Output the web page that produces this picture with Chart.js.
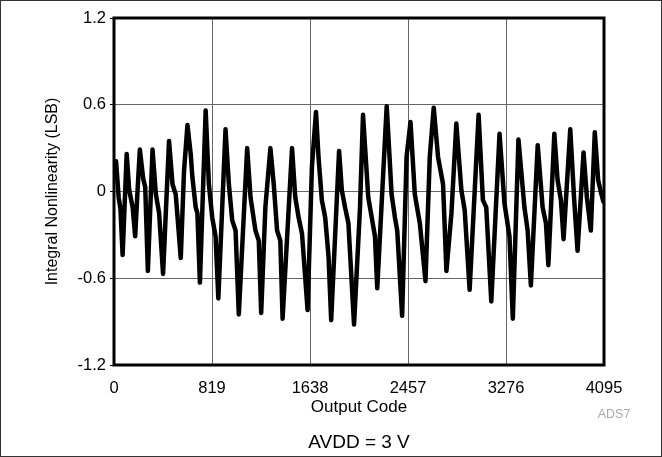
<!DOCTYPE html>
<html>
<head>
<meta charset="utf-8">
<script src="https://cdn.jsdelivr.net/npm/chart.js@4"></script>
<style>
  html, body { margin: 0; padding: 0; background: #fff; }
  #wrap { position: relative; width: 662px; height: 457px; }
  #inlChart { display: block; outline: 1px solid #333; outline-offset: -1px; }
</style>
</head>
<body>
<div id="wrap"><canvas id="inlChart" width="662" height="457"></canvas></div>
<script>
// output codes (x) and INL in LSB (y) at the turning points
const codes = [17,39,54,72,106,127,156,177,197,216,244,261,283,322,350,377,410,460,489,516,
  558,585,614,641,655,683,697,718,766,793,821,849,872,932,960,988,1016,1043,1113,1141,
  1182,1210,1230,1265,1307,1335,1363,1390,1409,1488,1515,1543,1571,1618,1654,1688,1709,1737,1765,1793,
  1815,1881,1904,1931,1959,2006,2056,2081,2125,2154,2181,2200,2279,2320,2348,2367,2408,2445,2478,2514,
  2556,2603,2639,2672,2708,2750,2778,2820,2861,2903,2931,2972,3047,3083,3111,3153,3222,3263,3305,3333,
  3380,3430,3457,3484,3541,3582,3610,3630,3680,3707,3735,3757,3813,3846,3874,3924,3952,3985,4018,4046,
  4074,4090];
const inl = [0.21,-0.04,-0.12,-0.44,0.26,0.01,-0.11,-0.31,0.01,0.29,0.09,0.03,-0.55,0.29,-0.02,-0.15,-0.57,0.35,0.05,-0.02,
  -0.46,0.14,0.46,0.26,0.10,-0.11,-0.15,-0.63,0.56,0.05,-0.18,-0.31,-0.74,0.43,0.05,-0.20,-0.27,-0.85,0.30,-0.04,
  -0.27,-0.34,-0.84,-0.11,0.30,0.05,-0.27,-0.34,-0.88,0.30,-0.04,-0.18,-0.29,-0.82,0.17,0.55,0.24,-0.06,-0.18,-0.45,
  -0.89,0.28,0.01,-0.11,-0.22,-0.92,-0.11,0.53,-0.04,-0.18,-0.31,-0.67,0.59,-0.02,-0.18,-0.27,-0.86,0.24,0.48,-0.02,
  -0.22,-0.62,0.24,0.58,0.24,0.05,-0.55,-0.15,0.47,0.01,-0.13,-0.68,0.53,-0.06,-0.11,-0.76,0.40,-0.08,-0.31,-0.88,
  0.36,-0.11,-0.27,-0.65,0.32,-0.11,-0.22,-0.51,0.40,0.08,-0.06,-0.33,0.43,-0.06,-0.41,0.27,-0.04,-0.27,0.41,0.08,
  -0.02,-0.07];
const xTicks = [0, 819, 1638, 2457, 3276, 4095];
const yTicks = [-1.2, -0.6, 0, 0.6, 1.2];

const FONT = '"Liberation Sans", Arial, Helvetica, sans-serif';

document.addEventListener('DOMContentLoaded', () => {
  const ctx = document.getElementById('inlChart').getContext('2d');

  // frame around plot + free text (axis titles, caption, figure id)
  const decor = {
    id: 'decor',
    afterDatasetsDraw(chart) {
      const { ctx, chartArea: a } = chart;
      ctx.save();
      ctx.strokeStyle = '#000';
      ctx.lineWidth = 3;
      ctx.strokeRect(a.left, a.top, a.right - a.left, a.bottom - a.top);

      ctx.fillStyle = '#000';
      ctx.textAlign = 'center';
      ctx.textBaseline = 'middle';
      ctx.font = '17px ' + FONT;
      ctx.fillText('Output Code', (a.left + a.right) / 2, 407);

      ctx.font = '19px ' + FONT;
      ctx.fillText('AVDD = 3 V', (a.left + a.right) / 2, 443);

      ctx.fillStyle = '#aaa';
      ctx.font = '12.5px ' + FONT;
      ctx.fillText('ADS7', 614, 415);

      ctx.fillStyle = '#000';
      ctx.font = '16px ' + FONT;
      ctx.translate(53, (a.top + a.bottom) / 2);
      ctx.rotate(-Math.PI / 2);
      ctx.fillText('Integral Nonlinearity (LSB)', 0, 0);
      ctx.restore();
    }
  };

  new Chart(ctx, {
    type: 'line',
    data: {
      datasets: [{
        data: codes.map((c, i) => ({ x: c, y: inl[i] })),
        borderColor: '#000',
        borderWidth: 4.5,
        borderJoinStyle: 'round',
        borderCapStyle: 'round',
        pointRadius: 0,
        tension: 0,
        fill: false
      }]
    },
    options: {
      responsive: false,
      animation: false,
      events: [],
      layout: { padding: { left: 0, right: 58, top: 18, bottom: 0 } },
      plugins: { legend: { display: false }, tooltip: { enabled: false } },
      scales: {
        x: {
          type: 'linear',
          min: 0,
          max: 4095,
          afterBuildTicks: s => { s.ticks = xTicks.map(v => ({ value: v })); },
          afterFit: s => { s.height = 92; },
          grid: { color: '#666', lineWidth: 1, drawTicks: false },
          border: { display: false },
          ticks: {
            padding: 14,
            color: '#000',
            font: { family: FONT, size: 16.5 },
            maxRotation: 0,
            callback: v => String(v)
          }
        },
        y: {
          min: -1.2,
          max: 1.2,
          afterBuildTicks: s => { s.ticks = yTicks.map(v => ({ value: v })); },
          afterFit: s => { s.width = 114; },
          grid: { color: '#666', lineWidth: 1, tickLength: 4, tickColor: '#000' },
          border: { display: false },
          ticks: {
            padding: 4,
            color: '#000',
            font: { family: FONT, size: 16.5 },
            callback: v => (Math.abs(v) < 1e-9 ? '0' : v.toFixed(1))
          }
        }
      }
    },
    plugins: [decor]
  });
});
</script>
</body>
</html>
